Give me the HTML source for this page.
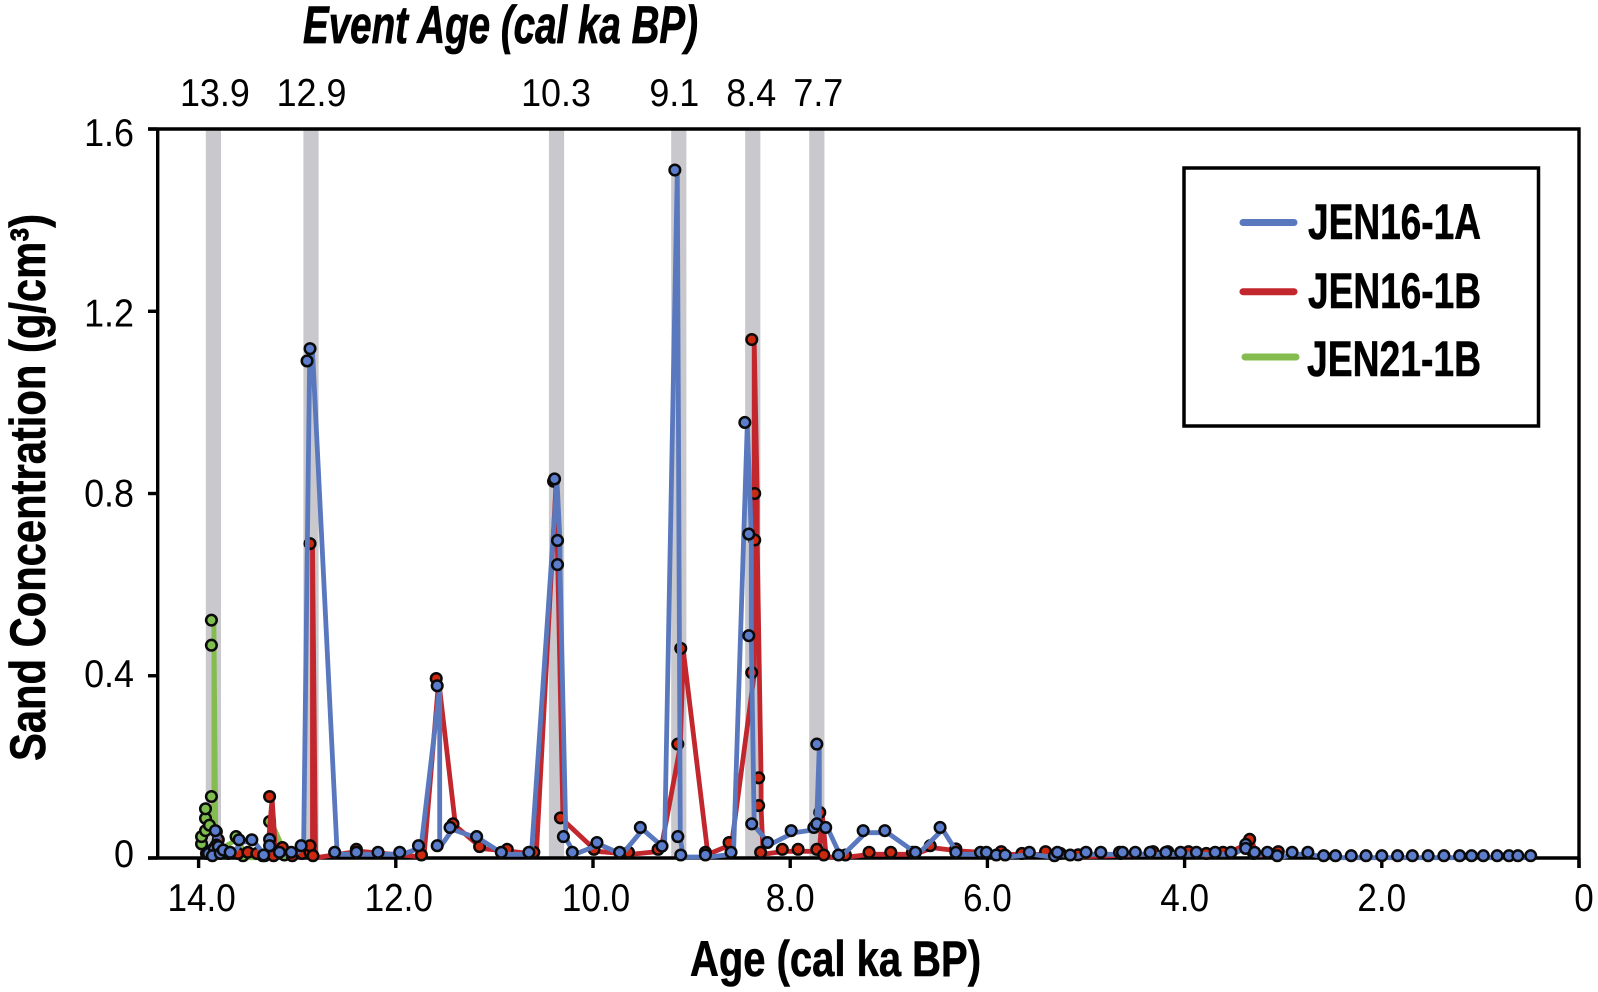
<!DOCTYPE html>
<html>
<head>
<meta charset="utf-8">
<title>Sand Concentration vs Age</title>
<style>
html,body{margin:0;padding:0;background:#fff;}
svg{display:block;}
text{font-family:"Liberation Sans",sans-serif;fill:#000;}
</style>
</head>
<body>
<svg id="chart" width="1598" height="992" viewBox="0 0 1598 992" xmlns="http://www.w3.org/2000/svg">
<rect x="0" y="0" width="1598" height="992" fill="#ffffff"/>
<g id="bands"></g>
<g id="axes"></g>
<g id="series"></g>
<text x="303" y="43" font-size="53" font-weight="bold" font-style="italic" stroke="#000" stroke-width="0.8" textLength="395" lengthAdjust="spacingAndGlyphs">Event Age (cal ka BP)</text>
<text x="690" y="976" font-size="50" font-weight="bold" stroke="#000" stroke-width="0.6" textLength="291" lengthAdjust="spacingAndGlyphs">Age (cal ka BP)</text>
<text transform="translate(45,761) rotate(-90)" x="0" y="0" font-size="50" font-weight="bold" stroke="#000" stroke-width="0.6" textLength="547" lengthAdjust="spacingAndGlyphs">Sand Concentration (g/cm³)</text>
<g>
<rect x="1184" y="168" width="354.500" height="258" fill="#ffffff" stroke="#000" stroke-width="3.500"/>
<line x1="1243" y1="222.500" x2="1294" y2="222.500" stroke="#5a78be" stroke-width="7" stroke-linecap="round"/>
<text x="1308" y="239" font-size="50" font-weight="bold" stroke="#000" stroke-width="0.6" textLength="173" lengthAdjust="spacingAndGlyphs">JEN16-1A</text>
<line x1="1243" y1="291.700" x2="1294" y2="291.700" stroke="#c1272d" stroke-width="7" stroke-linecap="round"/>
<text x="1308" y="308" font-size="50" font-weight="bold" stroke="#000" stroke-width="0.6" textLength="173" lengthAdjust="spacingAndGlyphs">JEN16-1B</text>
<line x1="1245" y1="357" x2="1296" y2="357" stroke="#84bc4f" stroke-width="7" stroke-linecap="round"/>
<text x="1307" y="376" font-size="50" font-weight="bold" stroke="#000" stroke-width="0.6" textLength="174" lengthAdjust="spacingAndGlyphs">JEN21-1B</text>
</g>
</svg>
<script>
const xTickValues = [14, 12, 10, 8, 6, 4, 2, 0];
const xTickLabels = ["14.0", "12.0", "10.0", "8.0", "6.0", "4.0", "2.0", "0"];
const yTickValues = [1.6, 1.2, 0.8, 0.4, 0];
const yTickLabels = ["1.6", "1.2", "0.8", "0.4", "0"];
const eventLabels = ["13.9", "12.9", "10.3", "9.1", "8.4", "7.7"];
const eventAges = [13.85, 12.86, 10.37, 9.13, 8.38, 7.73];

const blueAges = [13.87,13.9,13.83,13.82,13.84,13.86,13.80,13.78,13.75,13.68,13.59,13.46,13.34,13.28,13.28,13.18,13.06,12.96,12.90,12.87,12.62,12.40,12.18,11.96,11.77,11.58,11.58,11.45,11.18,10.93,10.65,10.39,10.36,10.36,10.30,10.21,9.96,9.73,9.52,9.30,9.17,9.14,9.11,8.86,8.60,8.46,8.42,8.42,8.39,8.23,7.99,7.76,7.73,7.73,7.64,7.51,7.26,7.04,6.73,6.48,6.32,6.07,6.01,5.91,5.82,5.575,5.32,5.29,5.16,5.00,4.85,4.66,4.63,4.50,4.35,4.19,4.04,3.88,3.69,3.53,3.38,3.38,3.29,3.16,3.06,2.91,2.75,2.59,2.47,2.31,2.16,2.00,1.84,1.69,1.53,1.37,1.21,1.09,0.97,0.83,0.71,0.62,0.49];
const blueValues = [0.0125,0.01,0.06,0.0285,0.02,0.005,0.025,0.01,0.0175,0.0125,0.04,0.04,0.0066,0.041,0.027,0.0125,0.0125,0.027,1.091,1.118,0.0125,0.0125,0.0125,0.0125,0.027,0.378,0.027,0.067,0.047,0.0125,0.0125,0.832,0.697,0.644,0.047,0.0125,0.034,0.0125,0.067,0.026,1.51,0.047,0.0066,0.0066,0.0125,0.956,0.711,0.488,0.075,0.034,0.06,0.067,0.25,0.075,0.067,0.0066,0.06,0.06,0.0125,0.067,0.0125,0.0125,0.0125,0.0066,0.0066,0.0125,0.005,0.0125,0.0066,0.0125,0.0125,0.0125,0.0125,0.0125,0.0125,0.0125,0.0125,0.0125,0.0125,0.0125,0.03,0.021,0.0125,0.0125,0.005,0.0125,0.0125,0.005,0.005,0.005,0.005,0.005,0.005,0.005,0.005,0.005,0.005,0.005,0.005,0.005,0.005,0.005,0.005];

const redAges = [13.82,13.80,13.78,13.70,13.60,13.50,13.41,13.33,13.28,13.24,13.15,13.05,12.95,12.87,12.87,12.87,12.84,12.40,11.74,11.59,11.42,11.15,10.87,10.60,10.40,10.33,9.99,9.64,9.34,9.14,9.11,8.86,8.62,8.39,8.39,8.36,8.36,8.32,8.32,8.30,8.08,7.92,7.73,7.70,7.66,7.44,7.20,6.98,6.76,6.58,6.32,5.86,5.65,5.41,5.26,5.08,4.65,4.32,4.17,3.96,3.78,3.61,3.34,3.30,3.05];
const redValues = [0.058,0.04,0.02,0.01,0.01,0.0125,0.01,0.005,0.135,0.005,0.023,0.005,0.01,0.0125,0.027,0.69,0.005,0.019,0.0066,0.394,0.075,0.025,0.019,0.0125,0.827,0.088,0.019,0.0125,0.019,0.25,0.46,0.0125,0.034,0.407,1.138,0.80,0.698,0.176,0.115,0.0125,0.019,0.019,0.019,0.10,0.0066,0.0066,0.0125,0.0125,0.0125,0.027,0.02,0.014,0.01,0.014,0.01,0.007,0.01,0.014,0.014,0.014,0.01,0.0125,0.041,0.01,0.014];

const greenAges = [13.97,13.97,13.93,13.93,13.93,13.89,13.87,13.87,13.87,13.85,13.92,13.62,13.55,13.35,13.28,13.13];
const greenValues = [0.031,0.047,0.06,0.087,0.108,0.072,0.135,0.467,0.522,0.02,0.01,0.047,0.005,0.005,0.08,0.0066];

const SVGNS = "http://www.w3.org/2000/svg";
function xScale(age) { return 1579 - 98.6 * age; }
function yScale(v) { return 858 - 455.6 * v; }
function make(tag, parent, attrs) {
  const el = document.createElementNS(SVGNS, tag);
  for (const k in attrs) el.setAttribute(k, attrs[k]);
  parent.appendChild(el);
  return el;
}
function squeeze(el, f) {
  const w = el.getComputedTextLength();
  el.setAttribute("textLength", (w * f).toFixed(1));
  el.setAttribute("lengthAdjust", "spacingAndGlyphs");
}

const bandsG = document.getElementById("bands");
const axesG = document.getElementById("axes");
const seriesG = document.getElementById("series");

eventAges.forEach(function (age, i) {
  const cx = xScale(age);
  const band = make("rect", bandsG, { x: cx - 7.6, y: 130, width: 15.2, height: 727, fill: "#c8c8cd" });
  
  
  const shift = eventLabels[i] === "9.1" ? -4.5 : (eventLabels[i] === "8.4" ? -1.5 : (eventLabels[i] === "12.9" ? 0.5 : (eventLabels[i] === "10.3" ? -0.5 : 1.5)));
  const t = make("text", bandsG, { x: cx + shift, y: 106, "font-size": 39, "text-anchor": "middle" });
  t.textContent = eventLabels[i];
  
  
  squeeze(t, 0.92);
});

const axisAttrs = { stroke: "#000", "stroke-width": 3.4, fill: "none" };
const frame = make("path", axesG, Object.assign({ d: "M148 129H1579V868M157.700 129V858M148 858H1579" }, axisAttrs));



xTickValues.forEach(function (val, i) {
  const px = xScale(val);
  const tick = make("line", axesG, Object.assign({ x1: px, x2: px, y1: 858, y2: 868 }, axisAttrs));
  
  
  const lx = val === 0 ? px + 5 : px + (val > 9 ? 3 : 0);
  const t = make("text", axesG, { x: lx, y: 911, "font-size": 39, "text-anchor": "middle" });
  t.textContent = xTickLabels[i];
  
  
  squeeze(t, 0.9);
});

yTickValues.forEach(function (val, i) {
  const py = yScale(val);
  const tick = make("line", axesG, Object.assign({ x1: 148, x2: 157.7, y1: py, y2: py }, axisAttrs));
  
  
  const dy = 17 - (1.6 - val) * 5;
  const t = make("text", axesG, { x: 134, y: py + dy, "font-size": 39, "text-anchor": "end" });
  t.textContent = yTickLabels[i];
  
  
  squeeze(t, 0.92);
});

function drawSeries(name, ages, values, lineColor, fillColor) {
  const g = make("g", seriesG, {});
  
  
  const pts = ages.map(function (a, i) { return xScale(a).toFixed(1) + "," + yScale(values[i]).toFixed(1); }).join(" ");
  const line = make("polyline", g, {
    points: pts, fill: "none", stroke: lineColor, "stroke-width": 4.8,
    "stroke-linejoin": "round", transform: "translate(2.5,2)"
  });
  
  
  ages.forEach(function (a, i) {
    const c = make("circle", g, {
      cx: xScale(a), cy: yScale(values[i]), r: 5.3, fill: fillColor, stroke: "#0a0a0a", "stroke-width": 2.5
    });
    
    
  });
}
drawSeries("jen21-1b", greenAges, greenValues, "#84bc4f", "#80bd50");
drawSeries("jen16-1b", redAges, redValues, "#c1272d", "#cc2a10");
drawSeries("jen16-1a", blueAges, blueValues, "#5a78be", "#5b7dcb");
</script>
</body>
</html>
